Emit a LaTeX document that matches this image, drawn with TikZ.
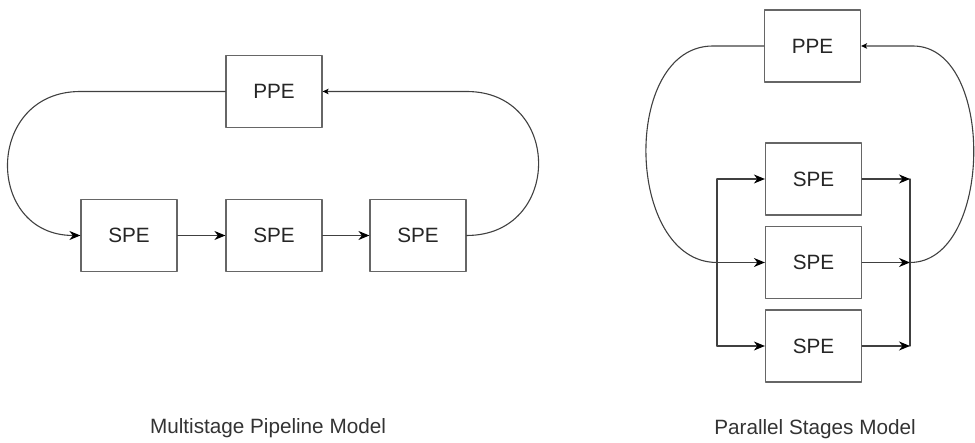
\documentclass[tikz,border=0pt]{standalone}
\usepackage{fontspec}
\setmainfont{Liberation Sans}
\usetikzlibrary{arrows.meta}
\usetikzlibrary{positioning}

\begin{document}
\begin{tikzpicture}[line cap=round,line join=round,x=1pt,y=1pt,
  >={Stealth[length=11pt,width=9pt,inset=3.5pt,color=black]},
  pe/.style={draw=black!60,line width=1.2pt,minimum width=96pt,minimum height=72pt,inner sep=0pt,
    font=\fontsize{20.7}{24}\selectfont,text=black!85},
  link/.style={draw=black!75,line width=1.1pt},
  back/.style={link,-{Stealth[length=6pt,width=5.5pt,inset=1.5pt,color=black]}},
  caption/.style={font=\fontsize{20.7}{24}\selectfont,text=black!80}]
\clip(0,0) rectangle (975,443);
% multistage pipeline
\node[pe] (ppeA) at (274,351.5) {PPE};
\node[pe] (speA1) at (129,207.5) {SPE};
\node[pe] (speA2) at (274,207.5) {SPE};
\node[pe] (speA3) at (418,207.5) {SPE};
\draw[link,->] (speA1) -- (speA2);
\draw[link,->] (speA2) -- (speA3);
\draw[link,->] (ppeA.west) -- ++(-145,0) to[out=180,in=180,distance=96pt] (speA1.west);
\draw[back] (speA3.east) to[out=0,in=0,distance=96pt] ++(0,144) -- (ppeA.east);
\node[caption] (titleA) at (268,15) {Multistage Pipeline Model};
% parallel stages
\node[pe] (ppeB) at (812.5,397) {PPE};
\node[pe] (speB1) at (813.5,264) {SPE};
\node[pe] (speB2) at (813.5,180.5) {SPE};
\node[pe] (speB3) at (813.5,97) {SPE};
\coordinate (busL) at (717,0);
\coordinate (busR) at (910,0);
\draw[link] (speB1.west -| busL) -- (speB3.west -| busL);
\draw[link] (speB1.east -| busR) -- (speB3.east -| busR);
\foreach \i in {1,2,3} {
  \draw[link,->] (speB\i.west -| busL) -- (speB\i.west);
  \draw[link,->] (speB\i.east) -- (speB\i.east -| busR);
}
\draw[link] (ppeB.west) -- ++(-51,0) to[out=180,in=180,distance=92pt] (speB2.west -| busL);
\draw[back] (speB2.east -| busR) to[out=0,in=0,distance=83pt] ++(3,216.5) -- (ppeB.east);
\node[caption] (titleB) at (815,14) {Parallel Stages Model};
\end{tikzpicture}
\end{document}
